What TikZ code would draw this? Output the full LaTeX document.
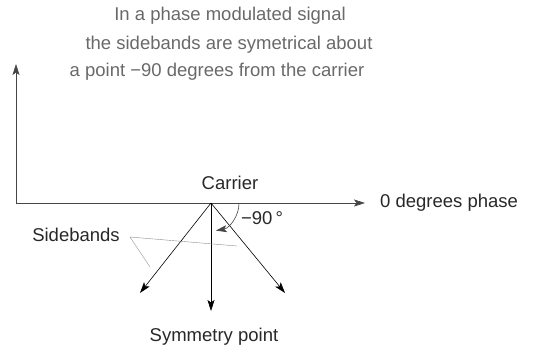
\documentclass[tikz,border=0pt]{standalone}
\usepackage{fontspec}
\setmainfont{Liberation Sans}
\usetikzlibrary{arrows.meta,positioning}
\definecolor{cAxis}{RGB}{70,70,70}
\definecolor{cText}{RGB}{40,40,40}
\definecolor{cTitle}{RGB}{105,105,105}
\definecolor{cLead}{RGB}{140,140,140}
\tikzset{
    arr/.style={-{Stealth[length=11pt,width=7pt,inset=2.5pt]}, semithick, #1},
    arr/.default={black},
    lbl/.style={font=\fontsize{18.5}{22}\selectfont, text=cText, inner sep=0pt},
    ttl/.style={font=\fontsize{18.5}{22}\selectfont, text=cTitle, inner sep=0pt},
    lead/.style={draw=cLead, thin},
}
\begin{document}
\begin{tikzpicture}[x=1pt, y=-1pt]
\useasboundingbox (0,0) rectangle (536,349);

% ---- title ----
\node[ttl] (t1) at (230,16) {In a phase modulated signal};
\node[ttl] (t2) at (229,45) {the sidebands are symetrical about};
\node[ttl] (t3) at (217,72) {a point −90 degrees from the carrier};

% ---- axes ----
\coordinate (orig) at (16,203);
\coordinate (car)  at (211,203);
\coordinate (xend) at (365,203);
\coordinate (yend) at (16,64);
\draw[arr=cAxis] (orig) -- (xend);
\draw[arr=cAxis] (orig) -- (yend);
\node[lbl, anchor=west] (zero) at (380,203) {0 degrees phase};
\node[lbl] (carl) at (230,183) {Carrier};

% ---- phasors ----
\coordinate (lsb) at (140,293);
\coordinate (sym) at (211,311);
\coordinate (usb) at (285,293);
\draw[arr] (car) -- (lsb);
\draw[arr] (car) -- (sym);
\draw[arr] (car) -- (usb);
\node[lbl] (syml) at (214,337) {Symmetry point};

% ---- -90 degree arc ----
\draw[arr=cAxis] (239,203) arc[start angle=0, end angle=80, radius=28];
\node[lbl] (ang) at (262,218) {−90\,°};

% ---- sidebands leader ----
\node[lbl] (sbl) at (76,235) {Sidebands};
\coordinate (sbj) at (130,237);
\coordinate (sbu) at (237,246);
\coordinate (sbd) at (150,267);
\draw[lead] (sbu) -- (sbj) -- (sbd);

\end{tikzpicture}
\end{document}
